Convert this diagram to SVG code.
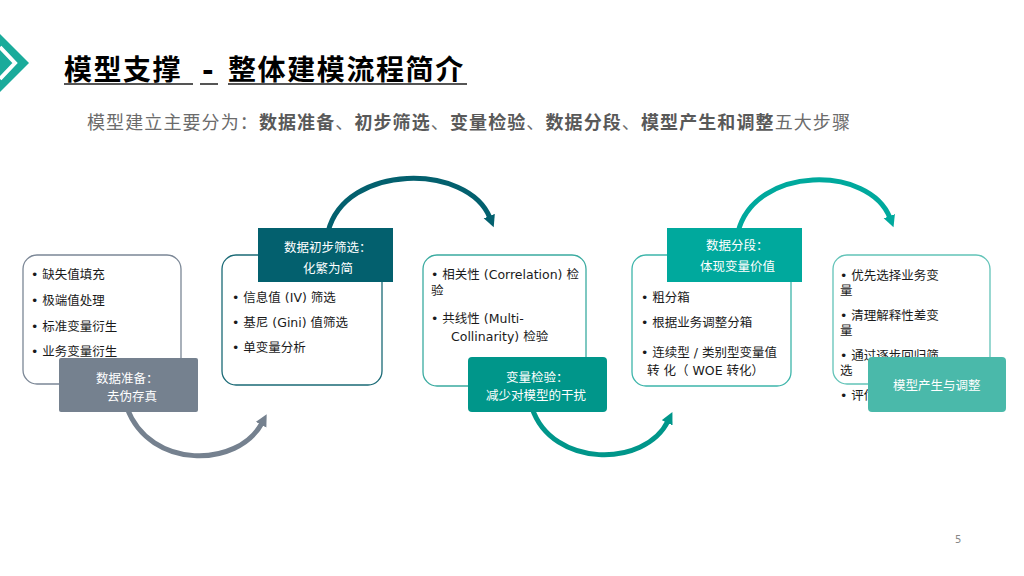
<svg xmlns="http://www.w3.org/2000/svg" width="1024" height="576" viewBox="0 0 1024 576">
<style>
text{font-family:"DejaVu Sans","Noto Sans CJK SC",sans-serif;}
.item{font-size:12.5px;fill:#1a1a1a;}
.lbl{font-size:12.5px;fill:#ffffff;}
.box{fill:#ffffff;stroke-width:1.3;}
.arc{fill:none;stroke-width:5;}
</style>
<defs>
<marker id="hGray" markerUnits="userSpaceOnUse" markerWidth="14" markerHeight="14" refX="2" refY="6" orient="auto"><path d="M0,0 L12,6 L0,12 z" fill="#75818f"/></marker>
<marker id="hDark" markerUnits="userSpaceOnUse" markerWidth="14" markerHeight="14" refX="2" refY="6" orient="auto"><path d="M0,0 L12,6 L0,12 z" fill="#03606e"/></marker>
<marker id="hTeal" markerUnits="userSpaceOnUse" markerWidth="14" markerHeight="14" refX="2" refY="6" orient="auto"><path d="M0,0 L12,6 L0,12 z" fill="#00968a"/></marker>
<marker id="hTeal2" markerUnits="userSpaceOnUse" markerWidth="14" markerHeight="14" refX="2" refY="6" orient="auto"><path d="M0,0 L12,6 L0,12 z" fill="#00a99d"/></marker>
</defs>
<rect width="1024" height="576" fill="#ffffff"/>
<g id="logo">
<polygon points="0,34 29,63 0,92" fill="#1aab9b"/>
<polyline points="0,47 15,63 0,79" fill="none" stroke="#ffffff" stroke-width="4"/>
</g>
<g id="title">
<text x="64" y="80" font-size="28" font-weight="bold" fill="#000" letter-spacing="1.5">模型支撑</text>
<text x="202" y="80" font-size="28" font-weight="bold" fill="#000">-</text>
<text x="228" y="80" font-size="28" font-weight="bold" fill="#000" letter-spacing="1.6">整体建模流程简介</text>
<line x1="64" y1="84" x2="193" y2="84" stroke="#555" stroke-width="2"/>
<line x1="200" y1="84" x2="218" y2="84" stroke="#555" stroke-width="2"/>
<line x1="228" y1="84" x2="467" y2="84" stroke="#555" stroke-width="2"/>
</g>
<text id="subtitle" x="87" y="129" font-size="18" fill="#6b6b6b" letter-spacing="1.1">模型建立主要分为：<tspan font-weight="bold" fill="#595959">数据准备</tspan>、<tspan font-weight="bold" fill="#595959">初步筛选</tspan>、<tspan font-weight="bold" fill="#595959">变量检验</tspan>、<tspan font-weight="bold" fill="#595959">数据分段</tspan>、<tspan font-weight="bold" fill="#595959">模型产生和调整</tspan>五大步骤</text>
<g id="connectors">
<path class="arc" stroke="#75818f" d="M127,408 C150,470 238,468 262,423" marker-end="url(#hGray)"/>
<path class="arc" stroke="#03606e" d="M328,232 C345,163 468,163 490,218" marker-end="url(#hDark)"/>
<path class="arc" stroke="#00968a" d="M532,408 C552,468 645,468 668,421" marker-end="url(#hTeal)"/>
<path class="arc" stroke="#00a99d" d="M738,232 C755,165 870,165 890,218" marker-end="url(#hTeal2)"/>
</g>
<g id="node1">
<rect class="box" x="23" y="255" width="158" height="129" rx="14" stroke="#7b8796"/>
<text class="item" x="31" y="279">•  缺失值填充</text>
<text class="item" x="31" y="305">•  极端值处理</text>
<text class="item" x="31" y="331">•  标准变量衍生</text>
<text class="item" x="31" y="356">•  业务变量衍生</text>
<rect x="59" y="358" width="139" height="54" rx="2" fill="#75818f"/>
<text class="lbl" x="96" y="383">数据准备：</text>
<text class="lbl" x="107" y="401">去伪存真</text>
</g>
<g id="node2">
<rect class="box" x="222" y="255" width="160" height="130" rx="14" stroke="#1a6a76"/>
<text class="item" x="232" y="302">•  信息值 (IV) 筛选</text>
<text class="item" x="232" y="327">•  基尼 (Gini) 值筛选</text>
<text class="item" x="232" y="352">•  单变量分析</text>
<rect x="258" y="228" width="135" height="54" fill="#03606e"/>
<text class="lbl" x="284" y="252">数据初步筛选：</text>
<text class="lbl" x="303" y="273">化繁为简</text>
</g>
<g id="node3">
<rect class="box" x="423" y="255" width="163" height="131" rx="14" stroke="#3aaba0"/>
<text class="item" x="431" y="279">•  相关性 (Correlation) 检</text>
<text class="item" x="431" y="295">验</text>
<text class="item" x="431" y="323">•  共线性 (Multi-</text>
<text class="item" x="451" y="341">Collinarity) 检验</text>
<rect x="468" y="357" width="139" height="55" rx="4" fill="#00968a"/>
<text class="lbl" x="506" y="382">变量检验：</text>
<text class="lbl" x="486" y="400">减少对模型的干扰</text>
</g>
<g id="node4">
<rect class="box" x="632" y="255" width="159" height="131" rx="14" stroke="#3db5aa"/>
<text class="item" x="641" y="302">•  粗分箱</text>
<text class="item" x="641" y="327">•  根据业务调整分箱</text>
<text class="item" x="641" y="357">•  连续型 / 类别型变量值</text>
<text class="item" x="647" y="375">转  化（ WOE 转化）</text>
<rect x="667" y="228" width="135" height="54" fill="#00a99d"/>
<text class="lbl" x="706" y="250" font-size="11.5">数据分段：</text>
<text class="lbl" x="700" y="271">体现变量价值</text>
</g>
<g id="node5">
<rect class="box" x="833" y="255" width="157" height="129" rx="14" stroke="#62c3b8"/>
<text class="item" x="840" y="280">•  优先选择业务变</text>
<text class="item" x="840" y="295">量</text>
<text class="item" x="840" y="320">•  清理解释性差变</text>
<text class="item" x="840" y="335">量</text>
<text class="item" x="840" y="360">•  通过逐步回归筛</text>
<text class="item" x="840" y="375">选</text>
<text class="item" x="840" y="400">•  评估</text>
<rect x="868" y="357" width="138" height="55" rx="4" fill="#4ab9aa"/>
<text class="lbl" x="893" y="390" font-size="13">模型产生与调整</text>
</g>
<text id="page" x="955" y="543" font-size="10" fill="#888888">5</text>
</svg>
